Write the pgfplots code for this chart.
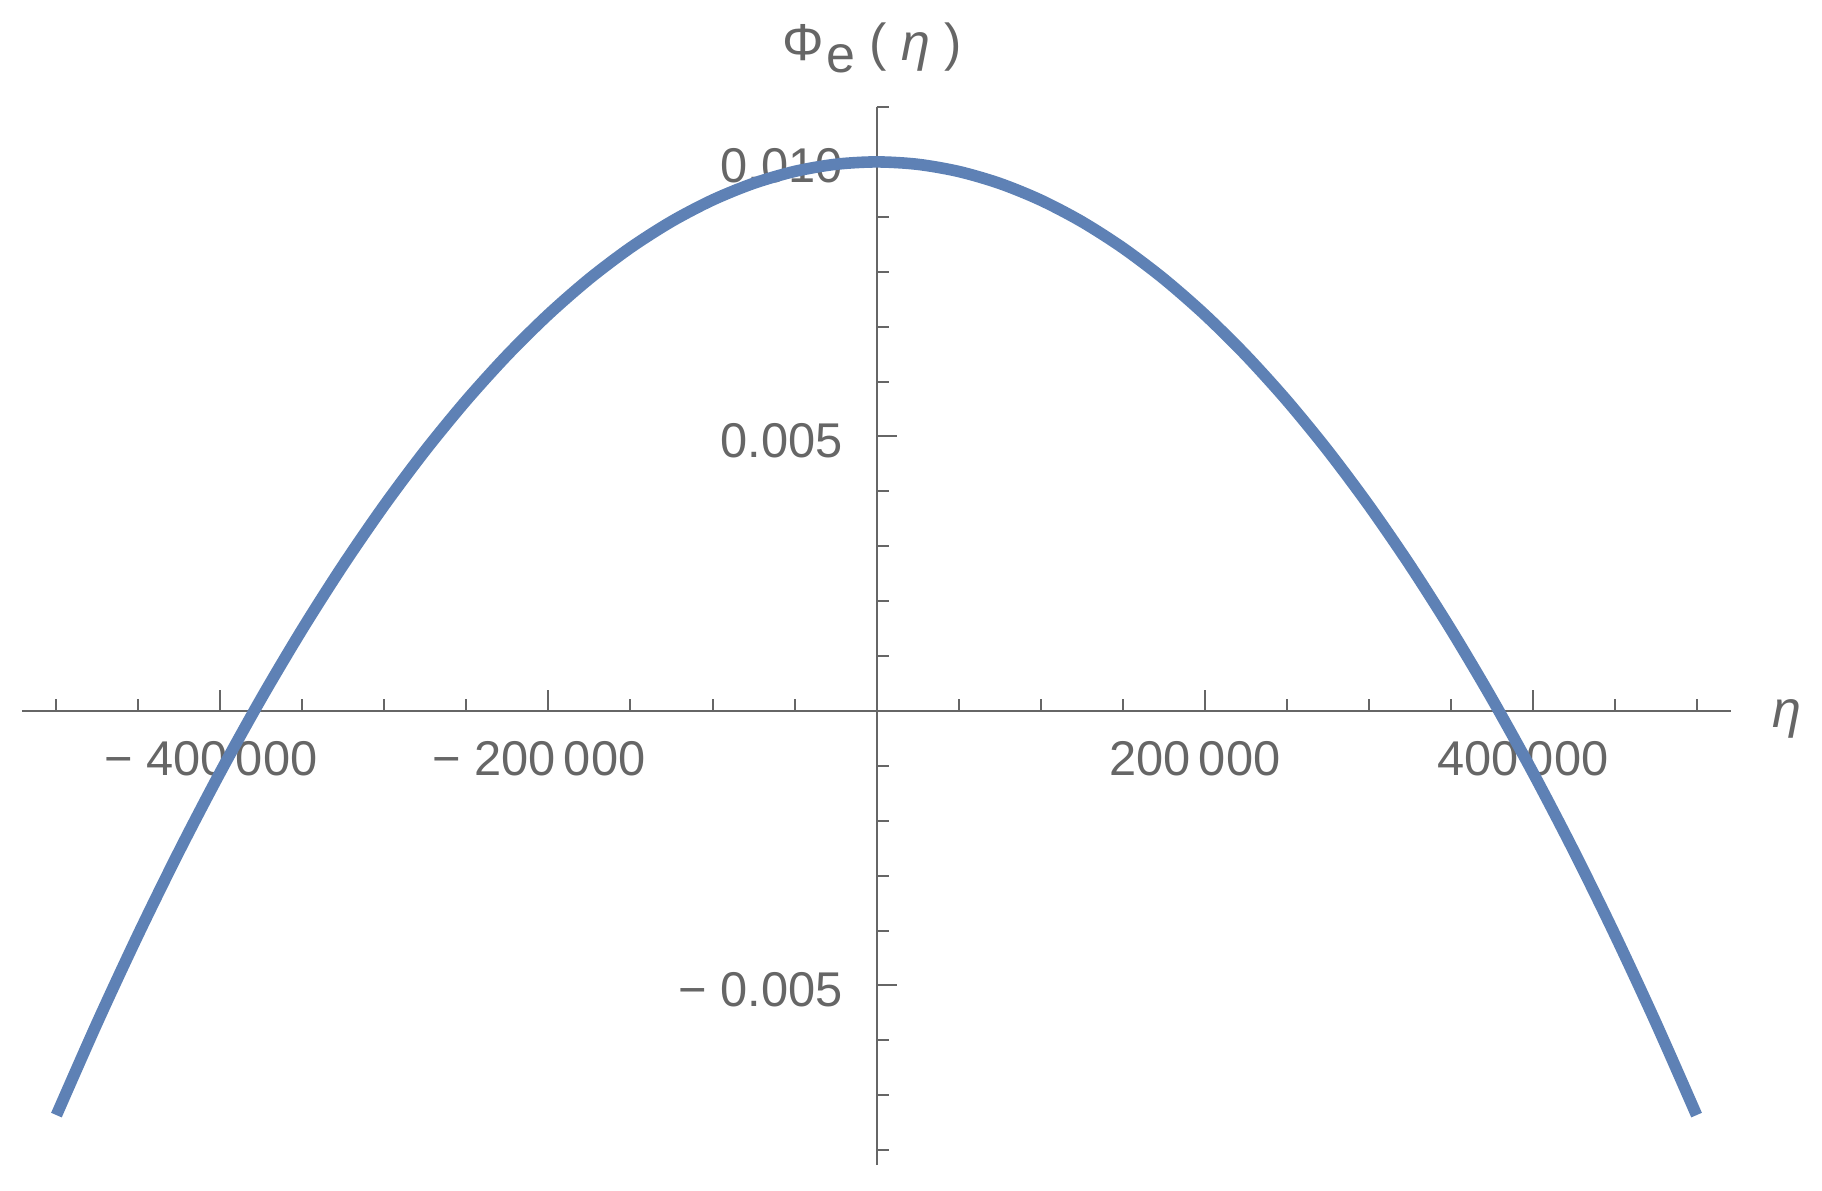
\documentclass[border=0pt]{standalone}
\usepackage{fontspec}
\setmainfont{Liberation Sans}
\usepackage{pgfplots}
\pgfplotsset{compat=1.18}
\definecolor{curveblue}{RGB}{94,129,181}
\definecolor{axisgray}{RGB}{102,102,102}

\begin{document}
\begin{tikzpicture}
\begin{axis}[
    set layers,
    scale only axis,
    width=427.25pt, height=264.5pt,
    axis lines=middle,
    axis line style={-, axisgray, line width=0.5pt},
    xmin=-521000, xmax=521000,
    ymin=-0.00827, ymax=0.011,
    scaled ticks=false,
    xtick={-400000,-200000,200000,400000},
    xticklabels={− 400\,000, − 200\,000, 200\,000, 400\,000},
    minor xtick={-500000,-450000,-350000,-300000,-250000,-150000,-100000,-50000,50000,100000,150000,250000,300000,350000,450000,500000},
    ytick={-0.005,0.005,0.010},
    yticklabels={− 0.005, 0.005, 0.010},
    minor ytick={-0.008,-0.007,-0.006,-0.004,-0.003,-0.002,-0.001,0.001,0.002,0.003,0.004,0.006,0.007,0.008,0.009,0.011},
    tick style={axisgray, line width=0.5pt},
    tick align=inside,
    major tick length=5.2pt, minor tick length=3.1pt,
    ticklabel style={font=\fontsize{12.2}{14}\selectfont, text=axisgray, inner sep=0pt},
    xticklabel style={anchor=north, yshift=-7.5pt, xshift=-2.4pt},
    yticklabel style={anchor=east, xshift=-8.2pt, yshift=-1pt},
    clip=false,
]
\addplot[curveblue, line width=2.9pt, smooth] coordinates {
(-500000,-0.0073611) (-475000,-0.0056684) (-450000,-0.0040625) (-425000,-0.0025434)
(-400000,-0.0011111) (-375000,0.0002344) (-350000,0.0014931) (-325000,0.0026649)
(-300000,0.00375) (-275000,0.0047483) (-250000,0.0056597) (-225000,0.0064844)
(-200000,0.0072222) (-175000,0.0078733) (-150000,0.0084375) (-125000,0.0089149)
(-100000,0.0093056) (-75000,0.0096094) (-50000,0.0098264) (-25000,0.0099566)
(0,0.01)
(25000,0.0099566) (50000,0.0098264) (75000,0.0096094) (100000,0.0093056)
(125000,0.0089149) (150000,0.0084375) (175000,0.0078733) (200000,0.0072222)
(225000,0.0064844) (250000,0.0056597) (275000,0.0047483) (300000,0.00375)
(325000,0.0026649) (350000,0.0014931) (375000,0.0002344) (400000,-0.0011111)
(425000,-0.0025434) (450000,-0.0040625) (475000,-0.0056684) (500000,-0.0073611)
};
\node[anchor=base, text=axisgray, font=\fontsize{13}{15}\selectfont, yshift=11.75pt, xshift=-1pt]
  at (axis cs:0,0.011) {Φ\kern0.5pt\raisebox{-3pt}{e} ( \textit{η} )};
\node[anchor=center, text=axisgray, font=\fontsize{13}{15}\selectfont, xshift=14pt, yshift=-2pt]
  at (axis cs:521000,0) {\textit{η}};
\coordinate (sw) at (rel axis cs:0,0);
\coordinate (ne) at (rel axis cs:1,1);
\end{axis}
\path ([shift={(-5.5pt,-6.25pt)}]sw) rectangle ([shift={(22.75pt,26.75pt)}]ne);
\end{tikzpicture}
\end{document}
